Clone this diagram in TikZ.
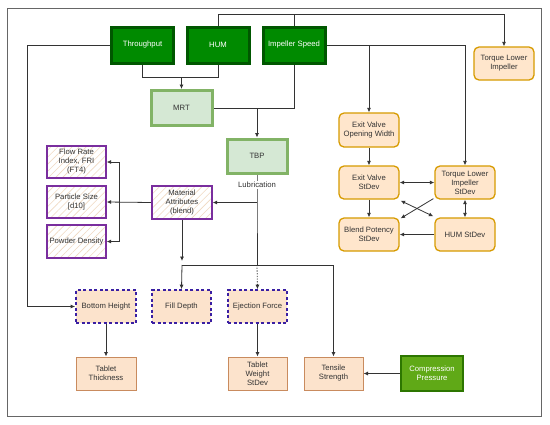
\documentclass[tikz,border=0pt]{standalone}
\usepackage{fontspec}
\setmainfont{Liberation Sans}
\usetikzlibrary{arrows.meta,patterns.meta}
\pgfdeclarelayer{bg}
\pgfsetlayers{bg,main}
\definecolor{dkgreen}{HTML}{008A00}
\definecolor{dkgreenb}{HTML}{005700}
\definecolor{ltgreen}{HTML}{D5E8D4}
\definecolor{ltgreenb}{HTML}{82B366}
\definecolor{orfill}{HTML}{FFE6CC}
\definecolor{orb}{HTML}{D79B00}
\definecolor{sqfill}{HTML}{FCE3CC}
\definecolor{sqb}{HTML}{C98B5E}
\definecolor{dashb}{HTML}{3A1FA3}
\definecolor{purb}{HTML}{7A2E9E}
\definecolor{hatch}{HTML}{F0D9C2}
\definecolor{cpfill}{HTML}{60A917}
\definecolor{cpb}{HTML}{2D7600}
\definecolor{txt}{HTML}{333333}
\definecolor{edge}{HTML}{333333}
\tikzset{
  base/.style={font=\fontsize{7.7}{9}\selectfont, align=center, inner sep=1pt, text=txt},
  dkg/.style={base, fill=dkgreen, draw=dkgreenb, line width=3pt, text=white, minimum width=62pt, minimum height=36pt},
  ltg/.style={base, fill=ltgreen, draw=ltgreenb, line width=3pt, minimum width=61pt, minimum height=35pt},
  orr/.style={base, fill=orfill, draw=orb, line width=1.3pt, rounded corners=5pt, minimum width=60pt, minimum height=33pt},
  sq/.style={base, fill=sqfill, draw=sqb, line width=1pt, minimum width=60pt, minimum height=33pt},
  dsh/.style={base, fill=sqfill, draw=dashb, line width=1.6pt, dash pattern=on 3pt off 2.5pt, minimum width=60pt, minimum height=33pt},
  hat/.style={base, preaction={fill=white}, pattern={Lines[angle=45,distance=5pt,line width=0.6pt]}, pattern color=hatch, draw=purb, line width=1.3pt, minimum width=59pt, minimum height=32pt},
  cpr/.style={base, fill=cpfill, draw=cpb, line width=2pt, text=white, minimum width=62pt, minimum height=35pt},
  con/.style={draw=edge, line width=0.8pt},
  arr/.style={con, -{Latex[length=4.5pt,width=4pt]}},
  darr/.style={con, {Latex[length=4.5pt,width=4pt]}-{Latex[length=4.5pt,width=4pt]}},
}
\begin{document}
\begin{tikzpicture}[x=1pt,y=-1pt]
\useasboundingbox (0,0) rectangle (550,424);
% nodes
\node[dkg] (thr) at (142.5,45) {Throughput};
\node[dkg] (hum) at (218,45) {HUM};
\node[dkg] (imp) at (294,45) {Impeller Speed};
\node[ltg] (mrt) at (181.5,108) {MRT};
\node[ltg, minimum width=60pt, minimum height=34pt] (tbp) at (257,156) {TBP};
\node[orr] (tli) at (504,63.5) {Torque Lower\\Impeller};
\node[orr, minimum height=34pt] (evo) at (369,130) {Exit Valve\\Opening Width};
\node[orr] (evs) at (369,182.5) {Exit Valve\\StDev};
\node[orr] (tls) at (465,182.5) {Torque Lower\\Impeller\\StDev};
\node[orr] (bps) at (369,234.5) {Blend Potency\\StDev};
\node[orr] (hums) at (465,234.5) {HUM StDev};
\node[hat] (fri) at (76.5,162) {Flow Rate\\Index, FRI\\(FT4)};
\node[hat] (ps) at (76.5,202) {Particle Size\\{[d10]}};
\node[hat, minimum height=33pt] (pd) at (76.5,241.5) {Powder Density};
\node[hat, minimum width=60pt, minimum height=33pt] (ma) at (182,202.5) {Material\\Attributes\\(blend)};
\node[dsh] (bh) at (106,306.5) {Bottom Height};
\node[dsh, minimum width=59pt] (fd) at (181.5,306.5) {Fill Depth};
\node[dsh, minimum width=59pt] (ef) at (257.5,306.5) {Ejection Force};
\node[sq] (tt) at (106,373.5) {Tablet\\Thickness};
\node[sq, minimum width=59pt] (tw) at (257.5,373.5) {Tablet\\Weight\\StDev};
\node[sq, minimum width=59pt] (ts) at (333.5,373.5) {Tensile\\Strength};
\node[cpr] (cp) at (432,373.5) {Compression\\Pressure};
% coordinates
\coordinate (j1) at (181.5,77);
\coordinate (t1) at (504,14);
\coordinate (t2) at (294,14);
\coordinate (j2) at (294,108);
\coordinate (j3) at (257,108);
\coordinate (k1) at (369,45);
\coordinate (k2) at (465,45);
\coordinate (l1) at (27,45);
\coordinate (m1) at (257,202.5);
\coordinate (m2) at (257,265);
\coordinate (n1) at (182,261);
\coordinate (n2) at (182,265);
\coordinate (n3) at (333.5,265);
\coordinate (b0) at (119,202.5);
\begin{pgfonlayer}{bg}
\fill[white] (0,0) rectangle (550,424);
\draw[color=black!60, line width=1pt] (7,8) rectangle (541,416);
\draw[con] (thr.south) |- (j1);
\draw[con] (hum.south) |- (j1);
\draw[arr] (j1) -- (mrt.north);
\draw[arr] (hum.north) |- (t1) -- (tli.north);
\draw[con] (t2) -- (j2) -- (j3);
\draw[con] (mrt.east) -- (j3);
\draw[arr] (j3) -- (tbp.north);
\draw[arr] (imp.east) -- (k1) -- (evo.north);
\draw[arr] (k1) -- (k2) -- (tls.north);
\draw[arr] (thr.west) -- (l1) |- (bh.west);
\draw[con] (tbp.south) -- (m1) -- (m2);
\draw[arr] (m1) -- (ma.east);
\draw[arr, dash pattern=on 1.2pt off 1.5pt] (m2) -- (ef.north);
\draw[arr] (ma.south) -- (n1);
\draw[arr] (n2) -- (fd.north);
\draw[arr] (n2) -- (n3) -- (ts.north);
\draw[arr] (ma.west) -- (ps.east);
\draw[arr] (b0) |- (fri.east);
\draw[arr] (b0) |- (pd.east);
\draw[arr] (bh.south) -- (tt.north);
\draw[arr] (ef.south) -- (tw.north);
\draw[arr] (cp.west) -- (ts.east);
\draw[arr] (evo.south) -- (evs.north);
\draw[darr] (evs.east) -- (tls.west);
\draw[arr] (evs.south) -- (bps.north);
\draw[darr] (tls.south) -- (hums.north);
\draw[arr] (hums.west) -- (bps.east);
\draw[darr] ([shift={(1,1)}]evs.south east) -- ([shift={(-1,-1)}]hums.north west);
\draw[arr] ([shift={(-1,-1)}]tls.south west) -- ([shift={(1,1)}]bps.north east);
\end{pgfonlayer}
\node[base, fill=white, inner sep=1pt] (lub) at (257,185) {Lubrication};
\end{tikzpicture}
\end{document}
